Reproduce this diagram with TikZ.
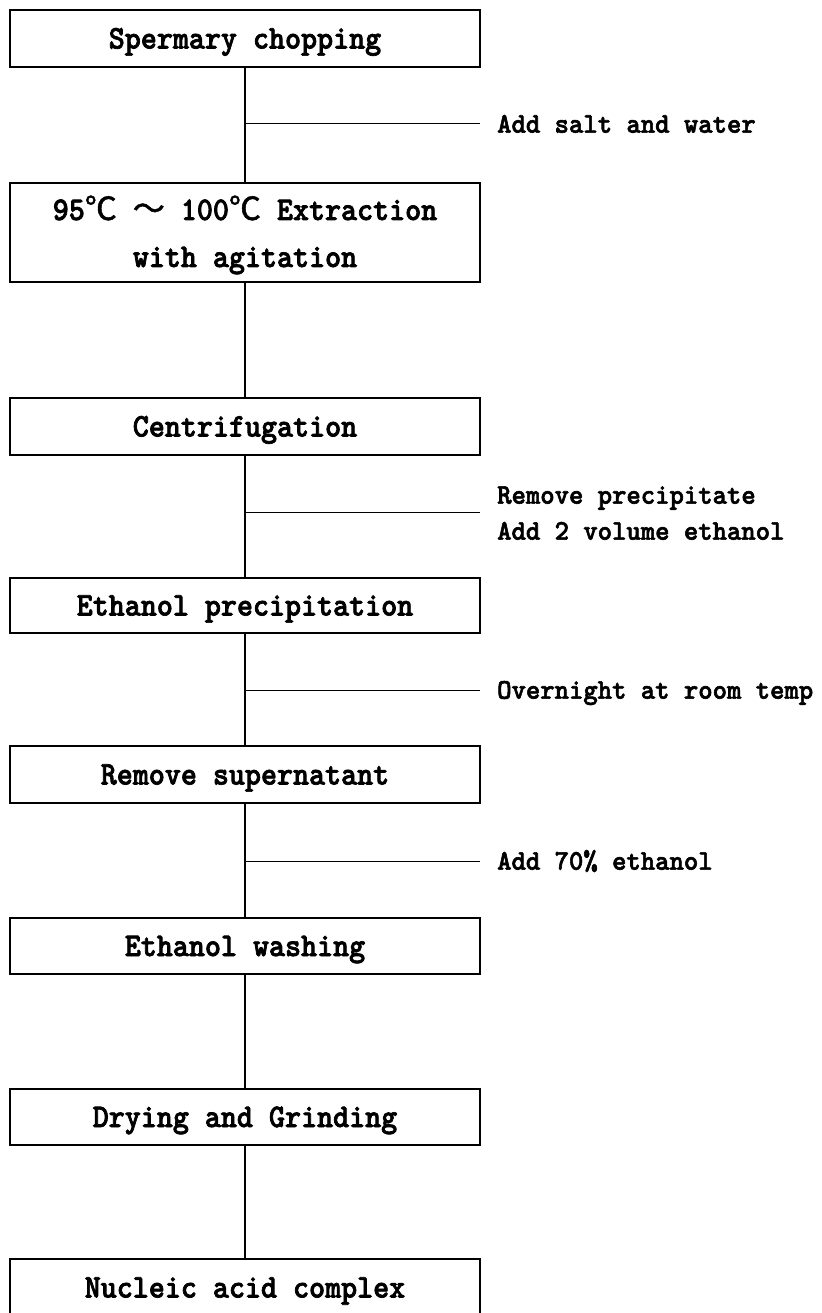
\documentclass[tikz,border=0pt]{standalone}
\usepackage{fontspec}
\newfontfamily\mfont{lmmonolt10-bold.otf}[FakeBold=2.2, FakeStretch=0.925]
\newfontfamily\sfont{lmmonolt10-bold.otf}[FakeBold=2, FakeStretch=0.96]
\newfontfamily\cjkfont{Noto Sans CJK SC}[FakeBold=1.5]
\newcommand{\mainfnt}{\mfont\fontsize{33}{38}\selectfont}
\newcommand{\sidefnt}{\sfont\fontsize{28.5}{33}\selectfont}
\newcommand{\cjkc}[1]{{\cjkfont\fontsize{32}{36}\selectfont #1}}
\tikzset{
  stepbox/.style={draw, line width=1.8pt, minimum width=470pt, minimum height=57pt,
    inner sep=0pt, text height=20pt, text depth=0pt, font=\mainfnt},
  boxtext/.style={inner sep=0pt, text height=20pt, text depth=0pt, font=\mainfnt},
  note/.style={anchor=west, inner sep=0pt, text height=17.4pt, text depth=0pt, font=\sidefnt},
  conn/.style={line width=1.8pt},
  branch/.style={line width=1pt}
}
\begin{document}
\begin{tikzpicture}[x=1pt,y=-1pt]
\useasboundingbox (0,0) rectangle (821,1313);
% boxes
\node[stepbox] (b1) at (245,38.5) {Spermary chopping};
\node[stepbox, minimum height=99pt] (b2) at (245,232.5) {};
\node[boxtext] (b2a) at (245,210) {95\cjkc{℃} \cjkc{～} 100\cjkc{℃} Extraction};
\node[boxtext] (b2b) at (245,257) {with agitation};
\node[stepbox] (b3) at (245,426.5) {Centrifugation};
\node[stepbox, minimum height=55pt] (b4) at (245,605.5) {Ethanol precipitation};
\node[stepbox] (b5) at (245,774.5) {Remove supernatant};
\node[stepbox, minimum height=56pt] (b6) at (245,946) {Ethanol washing};
\node[stepbox, minimum height=56pt] (b7) at (245,1117) {Drying and Grinding};
\node[stepbox] (b8) at (245,1287.5) {Nucleic acid complex};
% main connectors
\draw[conn] (b1.south) -- (b2.north);
\draw[conn] (b2.south) -- (b3.north);
\draw[conn] (b3.south) -- (b4.north);
\draw[conn] (b4.south) -- (b5.north);
\draw[conn] (b5.south) -- (b6.north);
\draw[conn] (b6.south) -- (b7.north);
\draw[conn] (b7.south) -- (b8.north);
% side notes
\coordinate (j1) at (245,124);
\coordinate (e1) at (480,124);
\node[note] (n1) at (497,124) {Add salt and water};
\draw[branch] (j1) -- (e1);
\coordinate (j2) at (245,512);
\coordinate (e2) at (480,512);
\node[note] (n2a) at (497,495) {Remove precipitate};
\node[note] (n2b) at (497,531) {Add 2 volume ethanol};
\draw[branch] (j2) -- (e2);
\coordinate (j3) at (245,690);
\coordinate (e3) at (480,690);
\node[note] (n3) at (497,690) {Overnight at room temp};
\draw[branch] (j3) -- (e3);
\coordinate (j4) at (245,861);
\coordinate (e4) at (480,861);
\node[note] (n4) at (497,861) {Add 70\% ethanol};
\draw[branch] (j4) -- (e4);
\end{tikzpicture}
\end{document}
